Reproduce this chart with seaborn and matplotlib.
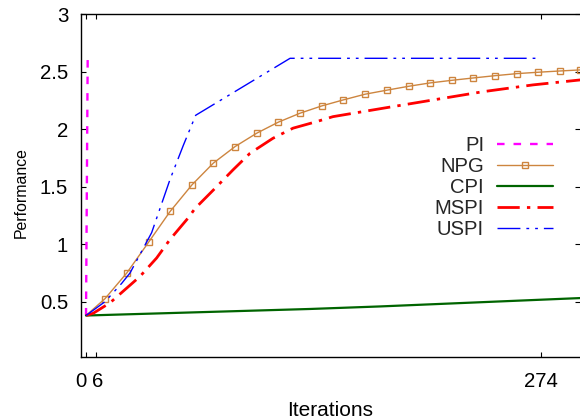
import matplotlib
matplotlib.use("Agg")
import matplotlib.pyplot as plt
import matplotlib.transforms as mtransforms
import seaborn as sns
import numpy as np

# ---- data ----
pi_x = [0, 1, 5]
pi_y = [0.38, 2.61, 2.61]

npg_x = [0, 11.4, 24.5, 37.7, 50.6, 63.8, 76.6, 89.7, 102.7, 115.7, 128.8, 141.8,
         154.7, 167.9, 181.0, 194.2, 207.0, 220.3, 232.9, 246.1, 259.4, 272.2, 285.3, 297.3]
npg_y = [0.38, 0.526, 0.749, 1.018, 1.284, 1.516, 1.704, 1.848, 1.964, 2.06, 2.138, 2.201,
         2.253, 2.303, 2.338, 2.372, 2.401, 2.424, 2.444, 2.464, 2.482, 2.494, 2.505, 2.514]

cpi_x = [0, 135, 177, 298]
cpi_y = [0.38, 0.437, 0.459, 0.532]

mspi_x = [0, 4.4, 14.4, 32.5, 42.5, 50.5, 61.6, 65.6, 76.6, 88.5, 98.7, 112.5, 124.6,
          138.8, 148.6, 178.7, 208.8, 238.9, 269, 298]
mspi_y = [0.38, 0.40, 0.49, 0.72, 0.88, 1.04, 1.23, 1.31, 1.47, 1.646, 1.79, 1.92, 2.008,
          2.065, 2.108, 2.181, 2.253, 2.325, 2.384, 2.428]

uspi_x = [0, 11.4, 21.5, 26.5, 39.5, 50.5, 58.6, 66, 122.8, 274]
uspi_y = [0.38, 0.50, 0.66, 0.75, 1.10, 1.56, 1.86, 2.12, 2.615, 2.615]

x_ticks = [0, 6, 274]
y_ticks = [0.5, 1, 1.5, 2, 2.5, 3]
y_tick_labels = ["0.5", "1", "1.5", "2", "2.5", "3"]

# ---- style ----
sns.set_theme(style="ticks")
plt.rcParams['font.family'] = ['Liberation Sans', 'DejaVu Sans']
FS_TICK = 14.7
FS_LEG = 14.6

fig = plt.figure(figsize=(5.8, 4.18), dpi=100)
ax = fig.add_axes([80.7 / 580, 1 - 357.3 / 418, (580 - 80.7) / 580, (357.3 - 14) / 418])

sns.lineplot(x=pi_x, y=pi_y, ax=ax, color="#ff00ff", linewidth=1.7,
             linestyle=(0, (3.2, 3.8)), label="PI", estimator=None)
sns.lineplot(x=npg_x, y=npg_y, ax=ax, color="#cd853f", linewidth=1.0,
             marker="s", markersize=5, markerfacecolor="none", markeredgecolor="#cd853f",
             markeredgewidth=1.0, markevery=list(range(1, len(npg_x))),
             label="NPG", estimator=None)
sns.lineplot(x=cpi_x, y=cpi_y, ax=ax, color="#006400", linewidth=1.6,
             label="CPI", estimator=None)
sns.lineplot(x=mspi_x, y=mspi_y, ax=ax, color="#ff0000", linewidth=2.0,
             linestyle=(0, (8, 2.6, 1.2, 2.6)), label="MSPI", estimator=None)
sns.lineplot(x=uspi_x, y=uspi_y, ax=ax, color="#0000ff", linewidth=1.0,
             linestyle=(0, (16.5, 4.3, 2, 4.3, 2, 4.3)), label="USPI", estimator=None)

ax.set_xlim(-3.2, 297.3)
ax.set_ylim(0.017, 3.0)
ax.set_xticks(x_ticks)
ax.set_xticklabels([str(t) for t in x_ticks])
ax.set_yticks(y_ticks)
ax.set_yticklabels(y_tick_labels)

for s in ["left", "bottom", "top"]:
    ax.spines[s].set_visible(True)
    ax.spines[s].set_color("black")
    ax.spines[s].set_linewidth(1.0)
ax.spines["right"].set_visible(False)

ax.tick_params(axis="both", which="major", direction="in", length=3.6, width=0.8,
               color="black", labelsize=FS_TICK, labelcolor="black", top=True, right=True)
ax.tick_params(axis="x", pad=10.4)
ax.tick_params(axis="y", pad=9)

# nudge the crowded "0" and "6" labels apart, as in the original
xl = ax.get_xticklabels()
shifts = [-4.7, 2.0, 0.0]
for lab, dx in zip(xl, shifts):
    lab.set_transform(lab.get_transform() +
                      mtransforms.ScaledTranslation(dx / 100, 0, fig.dpi_scale_trans))

ax.set_xlabel("Iterations", fontsize=15, color="black", labelpad=7.6)
ax.set_ylabel("Performance", fontsize=11.4, color="black")
ax.yaxis.set_label_coords((28.3 - 80.7) / 499.3, (418 - 192.5 - 60.7) / 343.3)
ax.grid(False)

leg = ax.legend(loc="upper right", bbox_to_anchor=(553 / 580, 1 - 136.3 / 418),
                bbox_transform=fig.transFigure, frameon=False, markerfirst=False,
                fontsize=FS_LEG, handlelength=2.75, handletextpad=0.65, labelspacing=0.1,
                borderpad=0, borderaxespad=0)
for t in leg.get_texts():
    t.set_ha("right")
leg._legend_box.align = "right"

fig.savefig("out.png", dpi=100)
